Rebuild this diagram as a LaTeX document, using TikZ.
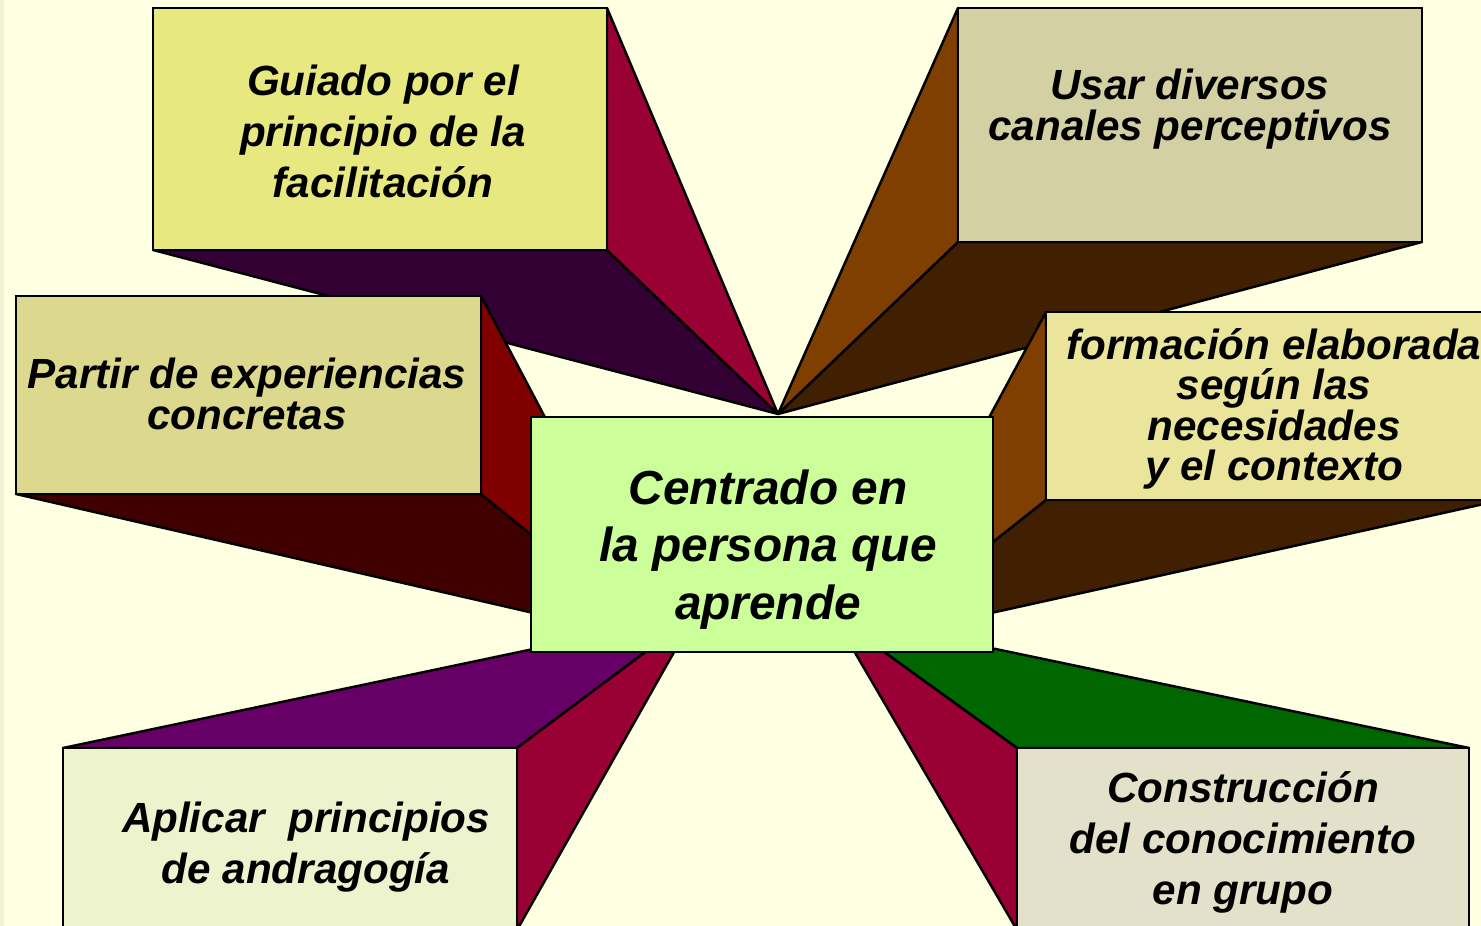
\documentclass[tikz,border=0pt]{standalone}
\usepackage{fontspec}
\setmainfont{Liberation Sans}

\definecolor{bgcream}{HTML}{FFFFE1}
\definecolor{bgstrip}{HTML}{F1F1D4}
\definecolor{crimsonface}{HTML}{990033}
\definecolor{plumface}{HTML}{330033}
\definecolor{brownface}{HTML}{7F3F00}
\definecolor{darkbrownface}{HTML}{402000}
\definecolor{redface}{HTML}{800000}
\definecolor{darkredface}{HTML}{400000}
\definecolor{purpleface}{HTML}{660066}
\definecolor{greenface}{HTML}{006600}
\definecolor{guiadofill}{HTML}{E8E880}
\definecolor{usarfill}{HTML}{D3D0A4}
\definecolor{partirfill}{HTML}{DCD88E}
\definecolor{formfill}{HTML}{EBE59C}
\definecolor{aplicarfill}{HTML}{ECF3CD}
\definecolor{construfill}{HTML}{E4E1CA}
\definecolor{centrofill}{HTML}{CCFF99}

\begin{document}
\begin{tikzpicture}[x=0.1mm,y=-0.1mm,every node/.style={outer sep=0pt},
 box/.style={draw,line width=0.7pt,inner sep=0pt},
 face/.style={draw,line width=0.7pt,line join=round},
 txt/.style={align=center,inner sep=0pt,font=\fontsize{12}{14.5}\selectfont\bfseries\itshape},
 tighttxt/.style={txt,font=\fontsize{12}{11.7}\selectfont\bfseries\itshape},
 bigtxt/.style={txt,font=\fontsize{13.6}{16.4}\selectfont\bfseries\itshape}]

\useasboundingbox (0,0) rectangle (1481,926);
\fill[bgcream] (0,0) rectangle (1481,926);
\fill[bgstrip] (0,0) rectangle (4,926);

\begin{scope}
\clip (0,0) rectangle (1481,926);

\coordinate (apT) at (778,414);
\coordinate (apL) at (664,643);
\coordinate (apR) at (869,640);
\coordinate (apBL) at (695,615);
\coordinate (apBR) at (833,615);

% upper pair
\node[box,fill=guiadofill,minimum width=45.4mm,minimum height=24.2mm] (guiado) at (380,129) {};
\node[box,fill=usarfill,minimum width=46.4mm,minimum height=23.4mm] (usar) at (1190,125) {};
\filldraw[face,fill=plumface] (guiado.south west) -- (guiado.south east) -- (apT) -- cycle;
\filldraw[face,fill=crimsonface] (guiado.north east) -- (guiado.south east) -- (apT) -- cycle;
\filldraw[face,fill=darkbrownface] (usar.south west) -- (usar.south east) -- (apT) -- cycle;
\filldraw[face,fill=brownface] (usar.north west) -- (usar.south west) -- (apT) -- cycle;
\node[box,fill=guiadofill,minimum width=45.4mm,minimum height=24.2mm] at (guiado) {};
\node[box,fill=usarfill,minimum width=46.4mm,minimum height=23.4mm] at (usar) {};
\node[txt] (tguiado) at (383,131) {Guiado por el\\principio de la\\facilitación};
\node[tighttxt] (tusar) at (1190,109) {Usar diversos\\canales perceptivos};

% middle pair
\node[box,fill=partirfill,minimum width=46.5mm,minimum height=19.8mm] (partir) at (248.5,395) {};
\node[box,fill=formfill,minimum width=45.6mm,minimum height=18.8mm] (form) at (1274,406) {};
\filldraw[face,fill=darkredface] (partir.south west) -- (partir.south east) -- (apL) -- cycle;
\filldraw[face,fill=redface] (partir.north east) -- (partir.south east) -- (apL) -- cycle;
\filldraw[face,fill=darkbrownface] (form.south west) -- (form.south east) -- (apR) -- cycle;
\filldraw[face,fill=brownface] (form.north west) -- (form.south west) -- (apR) -- cycle;
\node[box,fill=partirfill,minimum width=46.5mm,minimum height=19.8mm] at (partir) {};
\node[box,fill=formfill,minimum width=45.6mm,minimum height=18.8mm] at (form) {};
\node[tighttxt,font=\fontsize{12}{11.6}\selectfont\bfseries\itshape] (tpartir) at (247,394) {Partir de experiencias\\concretas};
\node[tighttxt,font=\fontsize{12}{11.5}\selectfont\bfseries\itshape] (tform) at (1274,409) {formación elaborada\\según las\\necesidades\\y el contexto};

% lower pair
\node[box,fill=aplicarfill,minimum width=45.4mm,minimum height=18.2mm] (aplicar) at (290,839) {};
\node[box,fill=construfill,minimum width=45.2mm,minimum height=18.2mm] (constru) at (1243,839) {};
\filldraw[face,fill=purpleface] (aplicar.north west) -- (aplicar.north east) -- (apBL) -- cycle;
\filldraw[face,fill=crimsonface] (aplicar.north east) -- (aplicar.south east) -- (apBL) -- cycle;
\filldraw[face,fill=greenface] (constru.north west) -- (constru.north east) -- (apBR) -- cycle;
\filldraw[face,fill=crimsonface] (constru.north west) -- (constru.south west) -- (apBR) -- cycle;
\node[box,fill=aplicarfill,minimum width=45.4mm,minimum height=18.2mm] at (aplicar) {};
\node[box,fill=construfill,minimum width=45.2mm,minimum height=18.2mm] at (constru) {};
\node[txt] (taplicar) at (306,847) {Aplicar\ \ principios\\de andragogía};
\node[txt] (tconstru) at (1243,842) {Construcción\\del conocimiento\\en grupo};

% centre
\node[box,fill=centrofill,minimum width=46.2mm,minimum height=23.5mm] (centro) at (762,534.5) {};
\node[bigtxt] (tcentro) at (768,549.5) {Centrado en\\la persona que\\aprende};
\end{scope}

\end{tikzpicture}
\end{document}
